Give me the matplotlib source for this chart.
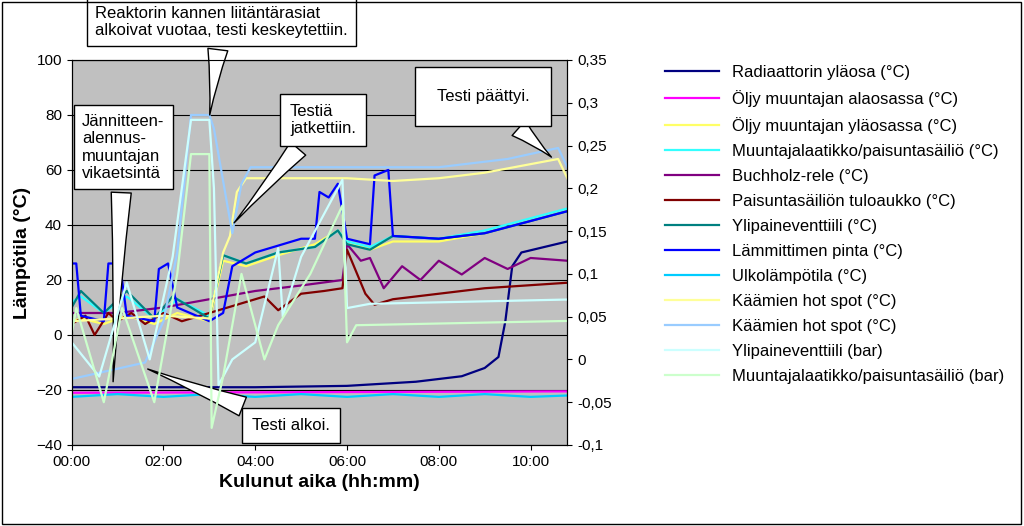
import matplotlib
matplotlib.use("Agg")
import matplotlib.pyplot as plt
from matplotlib.patches import Rectangle

plt.rcParams["font.family"] = "Liberation Sans"

# time in hours, left axis in degC, bar series on right axis
rad_t = [0, 4, 6, 7.5, 8.5, 9.0, 9.3, 9.45, 9.6, 9.8, 10.8]
rad_v = [-19, -19, -18.5, -17, -15, -12, -8, 5, 25, 30, 34]
oil_low_t = [0, 5, 10.8]
oil_low_v = [-21, -20.8, -20.5]
oil_up_t = [0, 0.2, 0.7, 1.2, 1.8, 2.3, 3.0, 3.3, 3.8, 4.5, 5.3, 5.8, 6.0, 6.5, 7, 8, 9, 10.8]
oil_up_v = [5, 6, 4, 7, 4, 8, 5, 27, 25, 29, 33, 38, 34, 31, 34, 34, 37, 45]
tank_t = [0, 0.2, 0.7, 1.2, 1.8, 2.3, 3.0, 3.3, 3.8, 4.5, 5.3, 5.8, 6.0, 6.5, 7, 8, 9, 10.8]
tank_v = [12, 14, 8, 14, 6, 13, 7, 29, 26, 30, 32, 38, 34, 32, 36, 35, 38, 46]
buch_t = [0, 1, 2, 3, 4, 5, 5.9, 6.0, 6.3, 6.5, 6.8, 7.2, 7.6, 8.0, 8.5, 9.0, 9.5, 10.0, 10.8]
buch_v = [8, 8, 10, 13, 16, 18, 20, 33, 27, 28, 17, 25, 20, 27, 22, 28, 24, 28, 27]
inlet_t = [0, 0.3, 0.5, 0.8, 1.0, 1.3, 1.6, 2.0, 2.4, 3.0, 3.4, 3.8, 4.2, 4.5, 5.0, 5.5, 5.9, 6.0, 6.4, 6.6, 7.0, 8.0, 9.0, 10.8]
inlet_v = [4, 7, 0, 8, 5, 8, 4, 8, 5, 8, 10, 12, 14, 9, 15, 16, 17, 31, 15, 11, 13, 15, 17, 19]
valve_t = [0, 0.2, 0.7, 1.2, 1.8, 2.2, 3.0, 3.3, 3.8, 4.5, 5.3, 5.8, 6.0, 6.5, 7, 8, 9, 10.8]
valve_v = [10, 16, 8, 16, 6, 14, 6, 29, 26, 30, 32, 38, 33, 31, 36, 35, 37, 45]
heat_t = [0, 0.1, 0.2, 0.7, 0.8, 1.05, 1.2, 1.8, 1.9, 2.1, 2.3, 3.0, 3.3, 3.5, 4.0, 5.0, 5.3, 5.4, 5.6, 5.8, 6.0, 6.5, 6.6, 6.9, 7.0, 8, 9, 10.8]
heat_v = [26, 26, 7, 5, 26, 26, 7, 5, 24, 26, 10, 5, 8, 25, 30, 35, 35, 52, 50, 55, 35, 33, 58, 60, 36, 35, 37, 45]
out_t = [0, 1, 2, 3, 4, 5, 6, 7, 8, 9, 10, 10.8]
out_v = [-22.5, -21.5, -22.5, -21.5, -22.5, -21.5, -22.5, -21.5, -22.5, -21.5, -22.5, -22]
hot1_t = [0, 1.0, 2.0, 3.0, 3.3, 3.45, 3.6, 3.8, 5, 6, 7, 8, 9, 10.6, 10.8]
hot1_v = [5, 6, 7, 6, 30, 36, 52, 57, 57, 57, 56, 57, 59, 64, 57]
hot2_t = [0, 1.6, 2.0, 2.3, 2.6, 3.0, 3.1, 3.5, 3.7, 3.9, 6, 8, 9.5, 10.6, 10.8]
hot2_v = [-16, -10, 5, 30, 80, 80, 75, 37, 55, 61, 61, 61, 64, 68, 61]
vbar_t = [0, 0.6, 1.2, 1.7, 2.2, 2.6, 3.0, 3.1, 3.2, 3.5, 4.0, 4.5, 4.6, 5.0, 5.9, 6.0, 6.5, 10.8]
vbar_v = [0.02, -0.02, 0.09, 0.0, 0.12, 0.28, 0.28, 0.2, -0.03, 0.0, 0.02, 0.13, 0.05, 0.12, 0.21, 0.06, 0.065, 0.07]
mbar_t = [0, 0.1, 0.7, 1.1, 1.8, 2.3, 2.6, 3.0, 3.05, 3.3, 3.7, 4.2, 4.5, 5.2, 5.9, 6.0, 6.2, 10.8]
mbar_v = [0.03, 0.06, -0.05, 0.06, -0.05, 0.1, 0.24, 0.24, -0.08, -0.02, 0.1, 0.0, 0.04, 0.1, 0.18, 0.02, 0.04, 0.045]

left_series = [
    ("Radiaattorin yläosa (°C)", rad_t, rad_v, "#000080"),
    ("Öljy muuntajan alaosassa (°C)", oil_low_t, oil_low_v, "#FF00FF"),
    ("Öljy muuntajan yläosassa (°C)", oil_up_t, oil_up_v, "#FFFF66"),
    ("Muuntajalaatikko/paisuntasäiliö (°C)", tank_t, tank_v, "#33FFFF"),
    ("Buchholz-rele (°C)", buch_t, buch_v, "#800080"),
    ("Paisuntasäiliön tuloaukko (°C)", inlet_t, inlet_v, "#800000"),
    ("Ylipaineventtiili (°C)", valve_t, valve_v, "#008080"),
    ("Lämmittimen pinta (°C)", heat_t, heat_v, "#0000FF"),
    ("Ulkolämpötila (°C)", out_t, out_v, "#00CCFF"),
    ("Käämien hot spot (°C)", hot1_t, hot1_v, "#FFFF99"),
    ("Käämien hot spot (°C)", hot2_t, hot2_v, "#99CCFF"),
]
right_series = [
    ("Ylipaineventtiili (bar)", vbar_t, vbar_v, "#CCFFFF"),
    ("Muuntajalaatikko/paisuntasäiliö (bar)", mbar_t, mbar_v, "#CCFFCC"),
]

fig = plt.figure(figsize=(10.24, 5.26), dpi=100)
fig.patches.append(Rectangle((0.002, 0.003), 0.995, 0.994, transform=fig.transFigure,
                             fill=False, ec="black", lw=1))
ax = fig.add_axes([0.070, 0.154, 0.484, 0.732])
ax.set_facecolor("#C0C0C0")
ax2 = ax.twinx()

handles = []
for lab, t, v, c in left_series:
    handles += ax.plot(t, v, color=c, lw=1.6, label=lab)
for lab, t, v, c in right_series:
    handles += ax2.plot(t, v, color=c, lw=1.6, label=lab)

ax.set_xlim(0, 10.8)
ax.set_ylim(-40, 100)
ax2.set_ylim(-0.1, 0.35)
ax.set_xticks([0, 2, 4, 6, 8, 10])
ax.set_xticklabels(["00:00", "02:00", "04:00", "06:00", "08:00", "10:00"])
ax.set_yticks(range(-40, 101, 20))
ax2.set_yticks([-0.1, -0.05, 0, 0.05, 0.1, 0.15, 0.2, 0.25, 0.3, 0.35])
ax2.set_yticklabels(["-0,1", "-0,05", "0", "0,05", "0,1", "0,15", "0,2", "0,25", "0,3", "0,35"])
ax.grid(axis="y", color="black", lw=0.8)
ax.set_axisbelow(True)
for a in (ax, ax2):
    a.tick_params(labelsize=11)
ax.set_ylabel("Lämpötila (°C)", fontsize=14, fontweight="bold")
ax.set_xlabel("Kulunut aika (hh:mm)", fontsize=14, fontweight="bold")

fig.legend(handles=handles, loc="upper left", bbox_to_anchor=(0.635, 0.905),
           frameon=False, fontsize=12, handlelength=3.2, labelspacing=0.6)

box = dict(boxstyle="square,pad=0.5", fc="white", ec="black", lw=1)
arrow = dict(arrowstyle="wedge,tail_width=1.2,shrink_factor=0.4", fc="white", ec="black", lw=1)
notes = [
    ("Reaktorin kannen liitäntärasiat\nalkoivat vuotaa, testi keskeytettiin.", (3.0, 79), (95, 488), 0.5),
    ("Jännitteen-\nalennus-\nmuuntajan\nvikaetsintä", (0.9, -18), (82, 345), 0.5),
    ("Testiä\njatkettiin.", (3.5, 40), (290, 390), 0.6),
    ("Testi päättyi.", (10.5, 64), (437, 422), 1.3),
    ("Testi alkoi.", (1.6, -12), (252, 93), 0.6),
]
for txt, xy, pos, pad in notes:
    b = dict(box, boxstyle=f"square,pad={pad}")
    ax.annotate(txt, xy=xy, xycoords="data", xytext=pos, textcoords="figure pixels",
                fontsize=12, va="bottom", ha="left", bbox=b, arrowprops=arrow, zorder=10)

fig.savefig("out.png", dpi=100)
